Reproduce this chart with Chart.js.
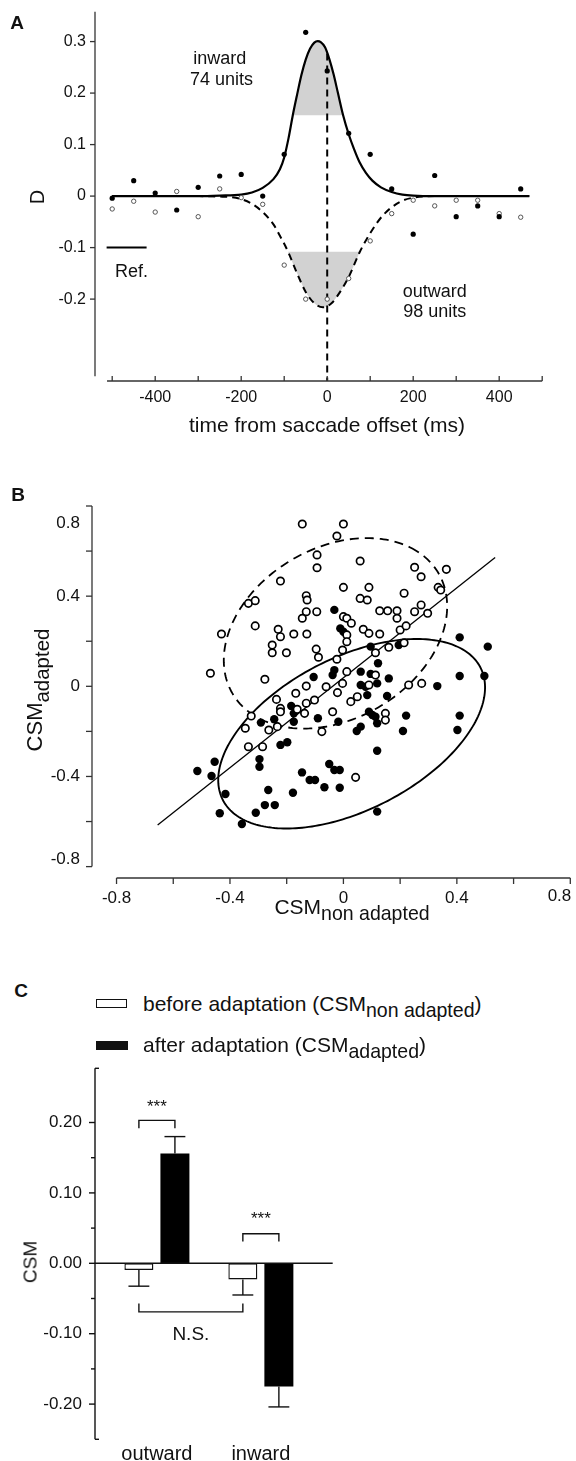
<!DOCTYPE html>
<html><head><meta charset="utf-8">
<script src="https://cdn.jsdelivr.net/npm/chart.js@4.4.1/dist/chart.umd.min.js"></script>
<style>
html,body{margin:0;padding:0;background:#fff;}
#wrap{position:relative;width:576px;height:1461px;overflow:hidden;background:#fff;font-family:"Liberation Sans",Arial,Helvetica,sans-serif;color:#111;}
canvas{position:absolute;left:0;}
.t{position:absolute;white-space:nowrap;transform:translate(-50%,-50%);line-height:1;}
.rot{transform:translate(-50%,-50%) rotate(-90deg);}
.lab{font-weight:bold;font-size:19px;}
.sub{font-size:0.93em;position:relative;top:0.32em;}
.lg{position:absolute;white-space:nowrap;transform:translateY(-50%);line-height:1;font-size:21px;}
</style></head><body>
<div id="wrap">
  <canvas id="cA" width="576" height="450" style="top:0;width:576px;height:450px"></canvas>
  <canvas id="cB" width="576" height="460" style="top:470px;width:576px;height:460px"></canvas>
  <canvas id="cC" width="576" height="401" style="top:1060px;width:576px;height:401px"></canvas>

  <div class="t lab" style="left:17px;top:22px">A</div>
  <div class="t rot" style="left:37px;top:197px;font-size:20px">D</div>
  <div class="t" style="left:327px;top:424px;font-size:21px">time from saccade offset (ms)</div>

  <div class="t lab" style="left:18px;top:494px">B</div>
  <div class="t rot" style="left:35px;top:690px;font-size:22px">CSM<span class="sub">adapted</span></div>
  <div class="t" style="left:352px;top:907px;font-size:21px">CSM<span class="sub">non adapted</span></div>

  <div class="t lab" style="left:21px;top:990px">C</div>
  <div style="position:absolute;left:96px;top:999px;width:29px;height:7px;border:1.5px solid #111;background:#fff"></div>
  <div class="lg" style="left:143px;top:1004px">before adaptation (CSM<span class="sub">non adapted</span>)</div>
  <div style="position:absolute;left:96px;top:1041px;width:32px;height:9px;background:#111"></div>
  <div class="lg" style="left:143px;top:1045px">after adaptation (CSM<span class="sub">adapted</span>)</div>
  <div class="t rot" style="left:30px;top:1262px;font-size:19px">CSM</div>
</div>
<script>
// ---------------- Panel A data ----------------
const aTimes = [-500,-450,-400,-350,-300,-250,-200,-150,-100,-50,0,50,100,150,200,250,300,350,400,450];
const aInwardD = [-0.004,0.030,0.006,-0.027,0.017,0.039,0.042,0.000,0.081,0.318,0.243,0.122,0.081,0.014,-0.074,0.040,-0.040,-0.019,-0.040,0.014];
const aOutwardD = [-0.025,-0.010,-0.031,0.009,-0.040,0.014,-0.003,-0.016,-0.134,-0.200,-0.200,-0.160,-0.087,-0.034,-0.008,-0.019,-0.008,-0.008,-0.034,-0.041];
const aFitInT = [-500,-400,-300,-250,-200,-175,-150,-125,-110,-100,-90,-80,-70,-60,-50,-40,-30,-22,-15,-5,5,15,25,37,50,62,75,90,105,125,150,175,200,250,300,400,470];
const aFitInD = [0,0,0,0.001,0.003,0.007,0.016,0.033,0.052,0.075,0.112,0.157,0.197,0.235,0.265,0.286,0.298,0.301,0.299,0.289,0.266,0.236,0.200,0.157,0.120,0.092,0.066,0.045,0.030,0.017,0.008,0.003,0.001,0,0,0,0];
const aFitOutT = [-500,-400,-300,-250,-225,-200,-175,-150,-125,-110,-91,-70,-50,-30,-10,10,30,50,76,100,130,170,200,250,300,400,470];
const aFitOutD = [0,0,0,-0.001,-0.002,-0.006,-0.015,-0.031,-0.055,-0.077,-0.108,-0.150,-0.186,-0.208,-0.216,-0.208,-0.186,-0.157,-0.108,-0.072,-0.037,-0.011,-0.003,0,0,0,0];
const aBandIn = [-80, 37];   const aBandInLevel = 0.157;
const aBandOut = [-91, 76];  const aBandOutLevel = -0.108;
const aSaccadeT = 0;  const aSaccadeTop = 0.277;
const aRefT = [-513, -420]; const aRefD = -0.1;
const aXTicks = [-500,-400,-300,-200,-100,0,100,200,300,400,500];
const aXLabeled = [-400,-200,0,200,400];
const aYTicks = [-0.2,-0.1,0,0.1,0.2,0.3];
const A_XMIN = -540, A_XMAX = 500, A_YMIN = -0.359, A_YMAX = 0.358;
const aXAxisSpan = [-512, 500];
const aYAxisSpan = [-0.35, 0.358];

// ---------------- Panel B data ----------------
const bOpenX = [-0.145,-0.093,-0.093,-0.222,-0.335,-0.311,-0.131,-0.128,-0.131,-0.094,-0.145,-0.311,-0.430,-0.230,-0.222,-0.175,-0.129,-0.251,-0.251,-0.201,-0.096,-0.088,-0.469,-0.277,
  0.000,-0.023,0.059,0.251,0.274,0.363,0.000,0.090,0.059,0.084,0.214,0.334,0.343,0.128,0.156,0.189,0.189,0.251,0.274,0.297,0.000,0.012,0.028,0.070,0.090,0.128,0.200,0.221,0.012,0.012,-0.003,0.113,0.160,0.214,-0.023,0.012,0.113,
  -0.131,-0.168,-0.236,-0.222,-0.222,-0.131,-0.102,-0.061,-0.163,-0.137,-0.325,-0.346,-0.263,-0.233,-0.076,-0.335,-0.285,
  -0.003,-0.021,0.090,0.026,0.049,0.230,0.276,-0.038,0.148,0.148,0.043];
const bOpenY = [0.720,0.583,0.526,0.467,0.368,0.380,0.402,0.383,0.331,0.331,0.302,0.268,0.232,0.253,0.220,0.232,0.232,0.183,0.149,0.149,0.165,0.129,0.058,0.031,
  0.720,0.667,0.556,0.528,0.486,0.519,0.439,0.439,0.390,0.383,0.413,0.439,0.427,0.335,0.335,0.335,0.302,0.331,0.361,0.324,0.309,0.302,0.280,0.253,0.235,0.232,0.250,0.268,0.228,0.198,0.161,0.149,0.173,0.193,0.120,0.065,0.050,
  0.001,-0.031,-0.058,-0.098,-0.113,-0.075,-0.061,-0.002,-0.102,-0.120,-0.132,-0.186,-0.194,-0.179,-0.201,-0.268,-0.268,
  0.013,-0.028,0.006,-0.068,-0.046,0.006,0.013,-0.113,-0.120,-0.150,-0.404];
const bFilledX = [-0.105,-0.184,-0.291,-0.244,-0.175,-0.175,-0.090,-0.222,-0.198,-0.454,-0.515,-0.465,-0.296,-0.296,-0.146,-0.119,-0.100,-0.067,-0.265,-0.416,-0.178,-0.277,-0.242,-0.436,-0.309,-0.358,
  -0.038,0.061,0.096,0.160,0.061,0.078,0.119,0.084,0.154,0.331,-0.018,0.090,0.102,0.113,0.119,0.061,0.047,0.221,0.210,0.410,0.402,0.119,-0.050,-0.032,-0.013,-0.013,0.119,0.410,0.497,
  -0.032,-0.011,0.000,0.096,0.195,0.122,-0.032,0.410,0.509];
const bFilledY = [0.041,-0.087,-0.161,-0.146,-0.120,-0.157,-0.142,-0.260,-0.248,-0.335,-0.376,-0.398,-0.323,-0.357,-0.382,-0.416,-0.416,-0.448,-0.460,-0.478,-0.472,-0.527,-0.527,-0.563,-0.561,-0.611,
  0.050,0.065,0.055,0.035,0.006,-0.002,0.013,-0.039,-0.043,0.001,-0.157,-0.113,-0.127,-0.135,-0.164,-0.179,-0.198,-0.130,-0.198,-0.130,-0.194,-0.286,-0.345,-0.371,-0.371,-0.450,-0.556,0.046,0.046,
  0.339,0.257,0.242,0.176,0.183,0.102,0.072,0.217,0.176];
const bFitX = [-0.655, 0.535];
const bFitY = [-0.615, 0.572];
// ellipse: [centre x, centre y, semi-major, semi-minor, angle (deg)]
const bEllipseOpen = [-0.028, 0.235, 0.464, 0.344, 52];
const bEllipseFilled = [0.029, -0.2105, 0.546, 0.316, 38.5];
const bTicks = [-0.8,-0.6,-0.4,-0.2,0,0.2,0.4,0.6,0.8];
const bLabeled = [-0.8,-0.4,0,0.4,0.8];
const B_XMIN = -0.8865, B_XMAX = 0.8, B_YMIN = -0.8505, B_YMAX = 0.8;

// ---------------- Panel C data ----------------
const cCategories = ['outward', 'inward'];
const cBefore = [-0.0095, -0.023];
const cBeforeErr = [0.023, 0.022];
const cAfter = [0.156, -0.175];
const cAfterErr = [0.024, 0.029];
const cMajorTicks = [-0.2,-0.1,0,0.1,0.2];
const cMinorTicks = [-0.15,-0.05,0.05,0.15];
const C_YMIN = -0.25, C_YMAX = 0.277, C_XMIN = 0.4045, C_XMAX = 2.691;
const cSignif = [
  {from:[0,0], to:[1,0], level:0.203, leg:-0.011, label:'***', labelAt:0.222},
  {from:[0,1], to:[1,1], level:0.042, leg:-0.011, label:'***', labelAt:0.062},
  {from:[0,0], to:[0,1], level:-0.069, leg:0.012, label:'N.S.', labelAt:-0.102}
];

// ---------------- helpers ----------------
const FONT = '"Liberation Sans", Arial, Helvetica, sans-serif';
Chart.defaults.font.family = FONT;
Chart.defaults.color = '#111';
const pts = (xs, ys) => xs.map((x, i) => ({x: x, y: ys[i]}));
const band = (ts, ds, r) => pts(ts, ds).filter(p => p.x >= r[0] && p.x <= r[1]);
const fixY = w => s => { s.width = w; s.paddingTop = 0; s.paddingBottom = 0; };
const fixX = h => s => { s.height = h; s.paddingLeft = 0; s.paddingRight = 0; };
const setTicks = arr => s => { s.ticks = arr.map(v => ({value: v})); };
function seg(ctx, x1, y1, x2, y2) { ctx.beginPath(); ctx.moveTo(x1, y1); ctx.lineTo(x2, y2); ctx.stroke(); }
const common = { animation: false, responsive: false, devicePixelRatio: 1,
  plugins: { legend: {display: false}, tooltip: {enabled: false} } };

// ---------------- Chart A ----------------
const aNotes = [
  {text:'inward', x:-250, y:0.267}, {text:'74 units', x:-246, y:0.225},
  {text:'outward', x:250, y:-0.186}, {text:'98 units', x:250, y:-0.225},
  {text:'Ref.', x:-455, y:-0.147}
];
const aDeco = { id:'aDeco', afterDraw(chart) {
  const {ctx, chartArea: ca, scales: {x, y}} = chart;
  ctx.save(); ctx.strokeStyle = '#333'; ctx.lineWidth = 1.3;
  seg(ctx, ca.left, y.getPixelForValue(aYAxisSpan[1]), ca.left, y.getPixelForValue(aYAxisSpan[0]));
  aYTicks.forEach(v => { const p = y.getPixelForValue(v); seg(ctx, ca.left - 5, p, ca.left, p); });
  seg(ctx, x.getPixelForValue(aXAxisSpan[0]), ca.bottom, x.getPixelForValue(aXAxisSpan[1]), ca.bottom);
  aXTicks.forEach(v => { const p = x.getPixelForValue(v); seg(ctx, p, ca.bottom, p, ca.bottom - 5); });
  ctx.fillStyle = '#111'; ctx.font = '18px ' + FONT; ctx.textAlign = 'center'; ctx.textBaseline = 'middle';
  aNotes.forEach(n => ctx.fillText(n.text, x.getPixelForValue(n.x), y.getPixelForValue(n.y)));
  ctx.restore();
}};
new Chart(document.getElementById('cA'), {
  type: 'line',
  data: { datasets: [
    {data: pts(aTimes, aInwardD), showLine:false, pointRadius:2.6, pointBackgroundColor:'#000', pointBorderWidth:0},
    {data: pts(aTimes, aOutwardD), showLine:false, pointRadius:2.2, pointBackgroundColor:'#fff', pointBorderColor:'#555', pointBorderWidth:1},
    {data: pts(aFitInT, aFitInD), borderColor:'#000', borderWidth:2.2, pointRadius:0, cubicInterpolationMode:'monotone', fill:false},
    {data: pts(aFitOutT, aFitOutD), borderColor:'#000', borderWidth:2, borderDash:[7,5], pointRadius:0, cubicInterpolationMode:'monotone', fill:false},
    {data: [{x:aSaccadeT, y:aSaccadeTop}, {x:aSaccadeT, y:A_YMIN}], borderColor:'#000', borderWidth:2, borderDash:[7,5], pointRadius:0, fill:false},
    {data: pts(aRefT, [aRefD, aRefD]), borderColor:'#000', borderWidth:2, pointRadius:0, fill:false},
    {data: band(aFitInT, aFitInD, aBandIn), borderWidth:0, pointRadius:0, cubicInterpolationMode:'monotone', fill:{value:aBandInLevel}, backgroundColor:'#d2d2d2'},
    {data: band(aFitOutT, aFitOutD, aBandOut), borderWidth:0, pointRadius:0, cubicInterpolationMode:'monotone', fill:{value:aBandOutLevel}, backgroundColor:'#d2d2d2'}
  ]},
  options: Object.assign({}, common, {
    layout: {padding: {left:0, right:33.8, top:11.7, bottom:0}},
    scales: {
      x: {type:'linear', min:A_XMIN, max:A_XMAX, afterFit: fixX(69), afterBuildTicks: setTicks(aXTicks),
          grid:{display:false, drawTicks:false}, border:{display:false},
          ticks:{font:{size:16}, padding:7, maxRotation:0, autoSkip:false, color:'#111',
                 callback: v => aXLabeled.includes(v) ? String(v) : ''}},
      y: {type:'linear', min:A_YMIN, max:A_YMAX, afterFit: fixY(95), afterBuildTicks: setTicks(aYTicks),
          grid:{display:false, drawTicks:false}, border:{display:false},
          ticks:{font:{size:16}, padding:9, color:'#111', callback: v => v === 0 ? '0' : String(v)}}
    }
  }),
  plugins: [aDeco]
});

// ---------------- Chart B ----------------
function drawEllipse(ctx, xs, ys, e, dash, lw) {
  const th = e[4] * Math.PI / 180;
  ctx.save(); ctx.beginPath();
  for (let i = 0; i <= 240; i++) {
    const t = i / 240 * 2 * Math.PI;
    const xv = e[0] + e[2] * Math.cos(th) * Math.cos(t) - e[3] * Math.sin(th) * Math.sin(t);
    const yv = e[1] + e[2] * Math.sin(th) * Math.cos(t) + e[3] * Math.cos(th) * Math.sin(t);
    const px = xs.getPixelForValue(xv), py = ys.getPixelForValue(yv);
    if (i === 0) ctx.moveTo(px, py); else ctx.lineTo(px, py);
  }
  ctx.closePath(); ctx.setLineDash(dash); ctx.lineWidth = lw; ctx.strokeStyle = '#000'; ctx.stroke(); ctx.restore();
}
const bEnd = bTicks[bTicks.length - 1];
const bFmt = v => v === 0 ? '0' : v.toFixed(1);
const bDeco = { id:'bDeco',
  beforeDatasetsDraw(chart) {
    const {ctx, scales: {x, y}} = chart;
    drawEllipse(ctx, x, y, bEllipseOpen, [9,6], 1.8);
    drawEllipse(ctx, x, y, bEllipseFilled, [], 1.9);
  },
  afterDraw(chart) {
    const {ctx, chartArea: ca, scales: {x, y}} = chart;
    ctx.save(); ctx.strokeStyle = '#333'; ctx.lineWidth = 1.3;
    seg(ctx, ca.left, y.getPixelForValue(bEnd), ca.left, y.getPixelForValue(bTicks[0]));
    bTicks.forEach(v => { const p = y.getPixelForValue(v); seg(ctx, ca.left - 6, p, ca.left, p); });
    seg(ctx, x.getPixelForValue(bTicks[0]), ca.bottom, x.getPixelForValue(bEnd), ca.bottom);
    bTicks.forEach(v => { const p = x.getPixelForValue(v); seg(ctx, p, ca.bottom, p, ca.bottom + 6); });
    // end labels kept inside the axis span, as in the original
    ctx.fillStyle = '#111'; ctx.font = '17px ' + FONT;
    ctx.textAlign = 'right'; ctx.textBaseline = 'top';
    ctx.fillText(bFmt(bEnd), ca.left - 12, y.getPixelForValue(bEnd) + 9);
    ctx.textBaseline = 'bottom';
    ctx.fillText(bFmt(bTicks[0]), ca.left - 12, y.getPixelForValue(bTicks[0]) + 1);
    ctx.textAlign = 'right'; ctx.textBaseline = 'top';
    ctx.fillText(bFmt(bEnd), x.getPixelForValue(bEnd) + 1, ca.bottom + 10);
    ctx.restore();
  }
};
new Chart(document.getElementById('cB'), {
  type: 'scatter',
  data: { datasets: [
    {data: pts(bOpenX, bOpenY), pointRadius:3.7, pointBackgroundColor:'#fff', pointBorderColor:'#000', pointBorderWidth:1.7},
    {data: pts(bFilledX, bFilledY), pointRadius:4.2, pointBackgroundColor:'#000', pointBorderWidth:0},
    {data: pts(bFitX, bFitY), showLine:true, borderColor:'#000', borderWidth:1.3, pointRadius:0}
  ]},
  options: Object.assign({}, common, {
    layout: {padding: {left:0, right:1, top:36, bottom:0}},
    scales: {
      x: {type:'linear', min:B_XMIN, max:B_XMAX, afterFit: fixX(52), afterBuildTicks: setTicks(bTicks),
          grid:{display:false, drawTicks:false}, border:{display:false},
          ticks:{font:{size:17}, padding:10, maxRotation:0, autoSkip:false, color:'#111',
                 callback: v => (bLabeled.includes(v) && v !== bEnd) ? bFmt(v) : ''}},
      y: {type:'linear', min:B_YMIN, max:B_YMAX, afterFit: fixY(92), afterBuildTicks: setTicks(bTicks),
          grid:{display:false, drawTicks:false}, border:{display:false},
          ticks:{font:{size:17}, padding:12, color:'#111',
                 callback: v => (bLabeled.includes(v) && Math.abs(v) !== bEnd) ? bFmt(v) : ''}}
    }
  }),
  plugins: [bDeco]
});

// ---------------- Chart C ----------------
const cDeco = { id:'cDeco', afterDatasetsDraw(chart) {
  const {ctx, chartArea: ca, scales: {x, y}} = chart;
  ctx.save(); ctx.strokeStyle = '#111'; ctx.lineWidth = 1.4;
  const y0 = y.getPixelForValue(0);
  seg(ctx, ca.left, y0, ca.right, y0);
  seg(ctx, ca.left, ca.top, ca.left, ca.bottom);
  seg(ctx, ca.left, ca.top, ca.left + 4, ca.top);
  seg(ctx, ca.left, ca.bottom, ca.left + 4, ca.bottom);
  cMajorTicks.forEach(v => { const p = y.getPixelForValue(v); seg(ctx, ca.left - 6, p, ca.left, p); });
  cMinorTicks.forEach(v => { const p = y.getPixelForValue(v); seg(ctx, ca.left - 4, p, ca.left, p); });
  [[cBefore, cBeforeErr], [cAfter, cAfterErr]].forEach((pair, di) => {
    chart.getDatasetMeta(di).data.forEach((el, j) => {
      const v = pair[0][j], e = pair[1][j];
      const end = y.getPixelForValue(v + Math.sign(v) * e);
      seg(ctx, el.x, el.y, el.x, end);
      const hw = el.width * 0.36;
      seg(ctx, el.x - hw, end, el.x + hw, end);
    });
  });
  ctx.fillStyle = '#111'; ctx.textAlign = 'center'; ctx.textBaseline = 'middle';
  cSignif.forEach(s => {
    const xa = chart.getDatasetMeta(s.from[0]).data[s.from[1]].x;
    const xb = chart.getDatasetMeta(s.to[0]).data[s.to[1]].x;
    const yl = y.getPixelForValue(s.level), yt = y.getPixelForValue(s.level + s.leg);
    ctx.beginPath(); ctx.moveTo(xa, yt); ctx.lineTo(xa, yl); ctx.lineTo(xb, yl); ctx.lineTo(xb, yt); ctx.stroke();
    ctx.font = (s.label === '***' ? '17px ' : '19px ') + FONT;
    ctx.fillText(s.label, (xa + xb) / 2, y.getPixelForValue(s.labelAt));
  });
  ctx.restore();
}};
new Chart(document.getElementById('cC'), {
  type: 'bar',
  data: { datasets: [
    {data: cCategories.map((c, i) => ({x: i + 1, y: cBefore[i]})), backgroundColor:'#fff', borderColor:'#111', borderWidth:1.4, borderSkipped:false, categoryPercentage:0.693, barPercentage:0.805},
    {data: cCategories.map((c, i) => ({x: i + 1, y: cAfter[i]})), backgroundColor:'#000', borderColor:'#000', borderWidth:0, borderSkipped:false, categoryPercentage:0.693, barPercentage:0.805}
  ]},
  options: Object.assign({}, common, {
    layout: {padding: {left:0, right:243.3, top:8.3, bottom:0}},
    scales: {
      x: {type:'linear', offset:false, min:C_XMIN, max:C_XMAX, afterFit: fixX(21.7), afterBuildTicks: setTicks([1, 2]),
          grid:{display:false, drawTicks:false}, border:{display:false},
          ticks:{font:{size:20}, padding:3, maxRotation:0, autoSkip:false, color:'#111',
                 callback: v => cCategories[v - 1] || ''}},
      y: {type:'linear', min:C_YMIN, max:C_YMAX, afterFit: fixY(95), afterBuildTicks: setTicks(cMajorTicks),
          grid:{display:false, drawTicks:false}, border:{display:false},
          ticks:{font:{size:17}, padding:13, color:'#111', callback: v => v.toFixed(2)}}
    }
  }),
  plugins: [cDeco]
});
</script>
</body></html>
